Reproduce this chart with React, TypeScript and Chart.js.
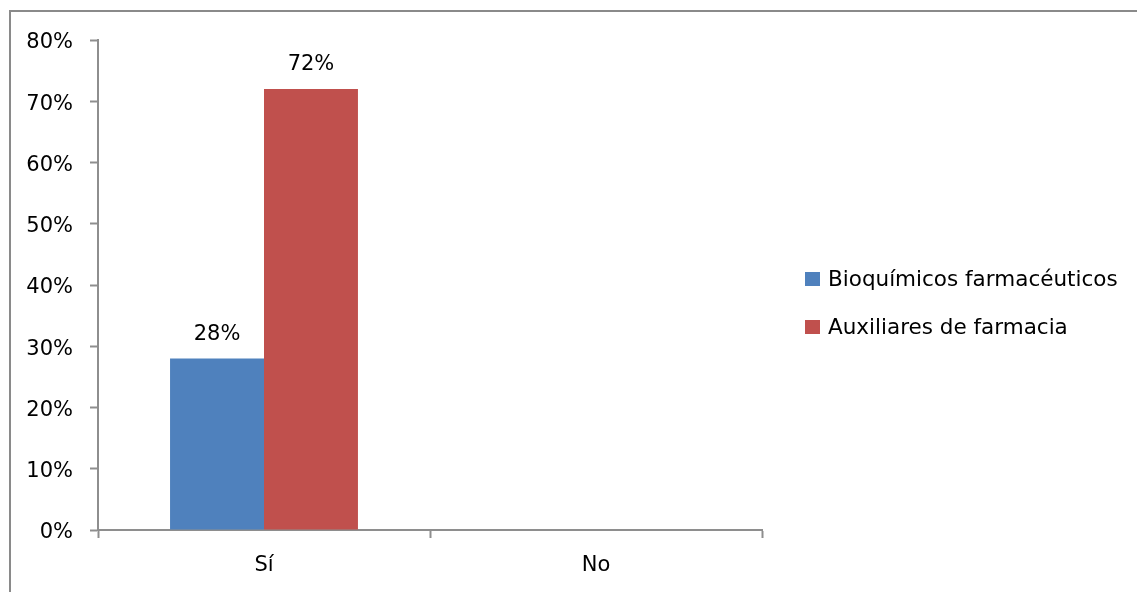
import React, { useEffect, useRef } from "react";
import { Chart, registerables } from "chart.js";

Chart.register(...registerables);

// Answers per professional group, in percent
const categories = ["Sí", "No"];
const bioquimicos: (number | null)[] = [28, null];
const auxiliares: (number | null)[] = [72, null];
const seriesNames = ["Bioquímicos farmacéuticos", "Auxiliares de farmacia"];
const seriesColors = ["#4F81BD", "#C0504D"];
const yMax = 80;
const yStep = 10;

const FONT = "'DejaVu Sans', sans-serif";
const AXIS_GREY = "#8E8E8E";

// Writes "NN%" above every bar that has a value
const valueLabels = {
  id: "valueLabels",
  afterDatasetsDraw(chart: any) {
    const { ctx } = chart;
    ctx.save();
    ctx.font = `21px ${FONT}`;
    ctx.fillStyle = "#000";
    ctx.textAlign = "center";
    ctx.textBaseline = "alphabetic";
    chart.data.datasets.forEach((ds: any, di: number) => {
      const meta = chart.getDatasetMeta(di);
      meta.data.forEach((bar: any, i: number) => {
        const v = ds.data[i];
        if (v === null || v === undefined) return;
        ctx.fillText(`${v}%`, bar.x, bar.y - 19);
      });
    });
    ctx.restore();
  },
};

// Legend block to the right of the plot
const sideLegend = {
  id: "sideLegend",
  afterDraw(chart: any) {
    const { ctx } = chart;
    const left = chart.chartArea.right + 43;
    const firstRow = 272;
    const rowGap = 48;
    ctx.save();
    ctx.font = `21.5px ${FONT}`;
    ctx.textAlign = "left";
    ctx.textBaseline = "alphabetic";
    chart.data.datasets.forEach((ds: any, i: number) => {
      const y = firstRow + i * rowGap;
      ctx.fillStyle = ds.backgroundColor;
      ctx.fillRect(left, y, 15, 14);
      ctx.fillStyle = "#000";
      ctx.fillText(ds.label, left + 23, y + 14);
    });
    ctx.restore();
  },
};

export default function App() {
  const canvasRef = useRef<HTMLCanvasElement | null>(null);

  useEffect(() => {
    const canvas = canvasRef.current;
    if (!canvas) return;
    const chart = new Chart(canvas, {
      type: "bar",
      data: {
        labels: categories,
        datasets: [
          { label: seriesNames[0], data: bioquimicos, backgroundColor: seriesColors[0] },
          { label: seriesNames[1], data: auxiliares, backgroundColor: seriesColors[1] },
        ],
      },
      options: {
        responsive: false,
        animation: false,
        devicePixelRatio: 1,
        layout: { padding: { left: 0, top: 40, right: 375, bottom: 0 } },
        datasets: {
          bar: { categoryPercentage: 0.566, barPercentage: 1.0, borderWidth: 0 },
        },
        plugins: {
          legend: { display: false },
          tooltip: { enabled: false },
          title: { display: false },
        },
        scales: {
          x: {
            offset: true,
            grid: {
              offset: true,
              drawOnChartArea: false,
              drawTicks: true,
              tickLength: 8,
              tickWidth: 2,
              color: AXIS_GREY,
            },
            border: { color: AXIS_GREY, width: 2 },
            ticks: {
              color: "#000",
              font: { family: FONT, size: 21 },
              padding: 15,
              maxRotation: 0,
            },
            afterFit(scale: any) {
              scale.height = 62;
            },
          },
          y: {
            min: 0,
            max: yMax,
            grid: {
              drawOnChartArea: false,
              drawTicks: true,
              tickLength: 8,
              tickWidth: 2,
              color: AXIS_GREY,
            },
            border: { color: AXIS_GREY, width: 2 },
            ticks: {
              stepSize: yStep,
              color: "#000",
              font: { family: FONT, size: 21 },
              padding: 17,
              labelOffset: 3,
              callback: (v: any) => `${v}%`,
            },
            afterFit(scale: any) {
              scale.width = 98;
            },
          },
        },
      },
      plugins: [valueLabels, sideLegend],
    });
    return () => chart.destroy();
  }, []);

  return (
    <div
      style={{
        position: "fixed",
        left: 0,
        top: 0,
        width: 1137,
        height: 592,
        background: "#fff",
        overflow: "hidden",
      }}
    >
      <div
        style={{
          position: "absolute",
          left: 9,
          top: 10,
          width: 1200,
          height: 700,
          borderTop: "2px solid #8a8a8a",
          borderLeft: "2px solid #8a8a8a",
        }}
      />
      <canvas
        ref={canvasRef}
        width={1137}
        height={592}
        style={{ position: "absolute", left: 0, top: 0, width: 1137, height: 592 }}
      />
    </div>
  );
}
